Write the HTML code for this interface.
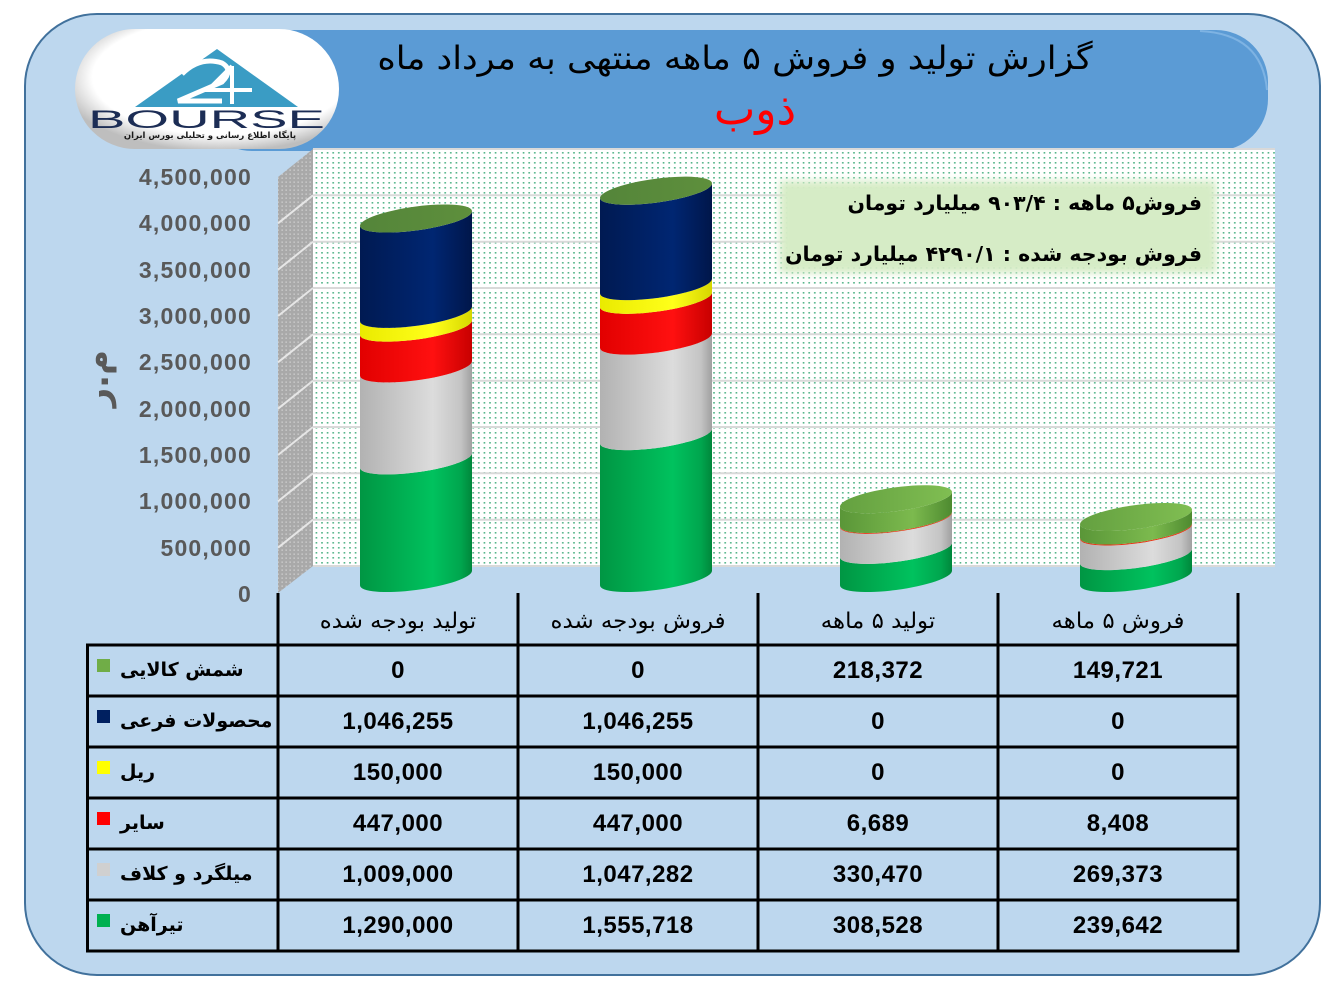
<!DOCTYPE html>
<html><head><meta charset="utf-8">
<style>
html,body{margin:0;padding:0;background:#fff;}
#w{position:relative;width:1342px;height:992px;overflow:hidden;background:#fff;}
svg{position:absolute;left:0;top:0;}
.t{position:absolute;white-space:nowrap;}
.fa{font-family:"DejaVu Sans",sans-serif;direction:rtl;}
.num{font-family:"Liberation Sans",sans-serif;font-weight:bold;font-size:24px;line-height:24px;color:#000;text-align:center;width:240px;letter-spacing:0.5px;}
.yl{font-family:"Liberation Sans",sans-serif;font-weight:bold;font-size:23px;line-height:24px;color:#595959;text-align:right;width:200px;letter-spacing:1.2px;}
.hd{font-family:"DejaVu Sans",sans-serif;direction:rtl;font-size:22px;line-height:30px;text-align:center;width:240px;color:#000;transform:scaleX(1.04);}
.lb{font-family:"DejaVu Sans",sans-serif;direction:rtl;font-size:19px;font-weight:bold;line-height:30px;color:#000;}
</style></head>
<body><div id="w">
<svg width="1342" height="992" viewBox="0 0 1342 992">
<defs>
 <pattern id="dots" width="5.6" height="5" patternUnits="userSpaceOnUse">
  <rect width="5.6" height="5" fill="#fff"/>
  <rect x="2" y="2" width="1.6" height="1.6" fill="#4FB386"/>
 </pattern>
 <pattern id="sdots" width="4" height="4" patternUnits="userSpaceOnUse">
  <rect width="4" height="4" fill="#A9A9A9"/>
  <rect x="1.5" y="1.5" width="1.3" height="1.3" fill="#D4D4D4"/>
 </pattern>
 <linearGradient id="gGreen" x1="0" x2="1" y1="0" y2="0">
  <stop offset="0" stop-color="#009643"/><stop offset="0.65" stop-color="#00C25E"/><stop offset="0.9" stop-color="#00A64E"/><stop offset="1" stop-color="#00873B"/>
 </linearGradient>
 <linearGradient id="gGray" x1="0" x2="1" y1="0" y2="0">
  <stop offset="0" stop-color="#B2B2B2"/><stop offset="0.65" stop-color="#DCDCDC"/><stop offset="0.9" stop-color="#C4C4C4"/><stop offset="1" stop-color="#A0A0A0"/>
 </linearGradient>
 <linearGradient id="gRed" x1="0" x2="1" y1="0" y2="0">
  <stop offset="0" stop-color="#E20000"/><stop offset="0.65" stop-color="#FF1010"/><stop offset="1" stop-color="#C80000"/>
 </linearGradient>
 <linearGradient id="gYel" x1="0" x2="1" y1="0" y2="0">
  <stop offset="0" stop-color="#EAEA00"/><stop offset="0.65" stop-color="#FFFF1A"/><stop offset="1" stop-color="#D6D600"/>
 </linearGradient>
 <linearGradient id="gNavy" x1="0" x2="1" y1="0" y2="0">
  <stop offset="0" stop-color="#001A52"/><stop offset="0.65" stop-color="#002672"/><stop offset="1" stop-color="#00164A"/>
 </linearGradient>
 <linearGradient id="gSh" x1="0" x2="1" y1="0" y2="0">
  <stop offset="0" stop-color="#5A9638"/><stop offset="0.65" stop-color="#7CBA4E"/><stop offset="1" stop-color="#4E8A30"/>
 </linearGradient>
 <linearGradient id="gFace1" x1="0" x2="1" y1="0" y2="0">
  <stop offset="0" stop-color="#54853A"/><stop offset="1" stop-color="#5E8F3C"/>
 </linearGradient>
 <linearGradient id="gFace2" x1="0" x2="1" y1="0" y2="0">
  <stop offset="0" stop-color="#64A040"/><stop offset="1" stop-color="#80BE52"/>
 </linearGradient>
 <radialGradient id="pill" cx="0.55" cy="0.4" r="0.62">
  <stop offset="0.78" stop-color="#ffffff"/><stop offset="1" stop-color="#BEBEBE"/>
 </radialGradient>
 <filter id="blur" x="-10%" y="-20%" width="120%" height="140%"><feGaussianBlur stdDeviation="4"/></filter>
</defs>

<!-- outer frame -->
<rect x="25" y="14" width="1295" height="961" rx="72" fill="#BDD7EE" stroke="#41719C" stroke-width="2"/>

<!-- banner -->
<rect x="200" y="30" width="1068" height="121" rx="52" fill="#5B9BD5"/>
<path d="M1200 31 Q1262 34 1267 90" fill="none" stroke="#8DBDE8" stroke-width="2" opacity="0.7"/>

<!-- logo -->
<rect x="75" y="29" width="264" height="120" rx="60" fill="url(#pill)"/>
<polygon points="135,107 217,49 298,107" fill="#3A9CC4"/>
<path d="M182 74 Q200 56 222 63 Q234 70 222 82 L178 101 L222 101" fill="none" stroke="#fff" stroke-width="5" stroke-linejoin="miter"/>
<path d="M232 66 L232 104 M232 66 L208 90 L252 90" fill="none" stroke="#fff" stroke-width="4"/>
<text x="88" y="128" textLength="237" lengthAdjust="spacingAndGlyphs" font-family="Liberation Sans, sans-serif" font-size="25" fill="#1C2D55">BOURSE</text>

<!-- back wall -->
<rect x="313" y="149" width="962" height="417" fill="url(#dots)"/>
<g stroke="#D9D9D9" stroke-width="2">
 <line x1="313" y1="566" x2="1275" y2="566"/>
 <line x1="313" y1="519.7" x2="1275" y2="519.7"/>
 <line x1="313" y1="473.3" x2="1275" y2="473.3"/>
 <line x1="313" y1="427" x2="1275" y2="427"/>
 <line x1="313" y1="380.7" x2="1275" y2="380.7"/>
 <line x1="313" y1="334.3" x2="1275" y2="334.3"/>
 <line x1="313" y1="288" x2="1275" y2="288"/>
 <line x1="313" y1="241.7" x2="1275" y2="241.7"/>
 <line x1="313" y1="195.3" x2="1275" y2="195.3"/>
 <line x1="313" y1="149" x2="1275" y2="149"/>
</g>
<!-- side wall -->
<polygon points="278,177 313,149 313,566 278,593" fill="url(#sdots)"/>
<g stroke="#E6E6E6" stroke-width="2">
 <line x1="278" y1="547.7" x2="313" y2="519.7"/>
 <line x1="278" y1="501.3" x2="313" y2="473.3"/>
 <line x1="278" y1="455" x2="313" y2="427"/>
 <line x1="278" y1="408.7" x2="313" y2="380.7"/>
 <line x1="278" y1="362.3" x2="313" y2="334.3"/>
 <line x1="278" y1="316" x2="313" y2="288"/>
 <line x1="278" y1="269.7" x2="313" y2="241.7"/>
 <line x1="278" y1="223.3" x2="313" y2="195.3"/>
</g>

<!-- annotation box -->
<rect x="780" y="181" width="436" height="92" fill="#D6ECC6" filter="url(#blur)"/>

<!-- cylinder 1 -->
<g transform="translate(416 0) matrix(1 -0.13 0 1 0 0)">
 <path d="M-56 460.4 A56 12 0 0 0 56 460.4 L56 578 A56 12 0 0 1 -56 578 Z" fill="url(#gGreen)"/>
 <path d="M-56 368.4 A56 12 0 0 0 56 368.4 L56 460.4 A56 12 0 0 1 -56 460.4 Z" fill="url(#gGray)"/>
 <path d="M-56 327.6 A56 12 0 0 0 56 327.6 L56 368.4 A56 12 0 0 1 -56 368.4 Z" fill="url(#gRed)"/>
 <path d="M-56 313.9 A56 12 0 0 0 56 313.9 L56 327.6 A56 12 0 0 1 -56 327.6 Z" fill="url(#gYel)"/>
 <path d="M-56 218.5 A56 12 0 0 0 56 218.5 L56 313.9 A56 12 0 0 1 -56 313.9 Z" fill="url(#gNavy)"/>
 <ellipse cx="0" cy="218.5" rx="56" ry="12" fill="url(#gFace1)"/>
</g>
<!-- cylinder 2 -->
<g transform="translate(656 0) matrix(1 -0.13 0 1 0 0)">
 <path d="M-56 436.1 A56 12 0 0 0 56 436.1 L56 578 A56 12 0 0 1 -56 578 Z" fill="url(#gGreen)"/>
 <path d="M-56 340.6 A56 12 0 0 0 56 340.6 L56 436.1 A56 12 0 0 1 -56 436.1 Z" fill="url(#gGray)"/>
 <path d="M-56 299.8 A56 12 0 0 0 56 299.8 L56 340.6 A56 12 0 0 1 -56 340.6 Z" fill="url(#gRed)"/>
 <path d="M-56 286.1 A56 12 0 0 0 56 286.1 L56 299.8 A56 12 0 0 1 -56 299.8 Z" fill="url(#gYel)"/>
 <path d="M-56 190.7 A56 12 0 0 0 56 190.7 L56 286.1 A56 12 0 0 1 -56 286.1 Z" fill="url(#gNavy)"/>
 <ellipse cx="0" cy="190.7" rx="56" ry="12" fill="url(#gFace1)"/>
</g>
<!-- cylinder 3 -->
<g transform="translate(896 0) matrix(1 -0.13 0 1 0 0)">
 <path d="M-56 549.9 A56 12 0 0 0 56 549.9 L56 578 A56 12 0 0 1 -56 578 Z" fill="url(#gGreen)"/>
 <path d="M-56 519.8 A56 12 0 0 0 56 519.8 L56 549.9 A56 12 0 0 1 -56 549.9 Z" fill="url(#gGray)"/>
 <path d="M-56 519.0 A56 12 0 0 0 56 519.0 L56 519.8 A56 12 0 0 1 -56 519.8 Z" fill="#E83010"/>
 <path d="M-56 499.3 A56 12 0 0 0 56 499.3 L56 519.0 A56 12 0 0 1 -56 519.0 Z" fill="url(#gSh)"/>
 <ellipse cx="0" cy="499.3" rx="56" ry="12" fill="url(#gFace2)"/>
</g>
<!-- cylinder 4 -->
<g transform="translate(1136 0) matrix(1 -0.13 0 1 0 0)">
 <path d="M-56 556.1 A56 12 0 0 0 56 556.1 L56 578 A56 12 0 0 1 -56 578 Z" fill="url(#gGreen)"/>
 <path d="M-56 531.5 A56 12 0 0 0 56 531.5 L56 556.1 A56 12 0 0 1 -56 556.1 Z" fill="url(#gGray)"/>
 <path d="M-56 530.5 A56 12 0 0 0 56 530.5 L56 531.5 A56 12 0 0 1 -56 531.5 Z" fill="#E83010"/>
 <path d="M-56 517.0 A56 12 0 0 0 56 517.0 L56 530.5 A56 12 0 0 1 -56 530.5 Z" fill="url(#gSh)"/>
 <ellipse cx="0" cy="517.0" rx="56" ry="12" fill="url(#gFace2)"/>
</g>

<!-- table lines -->
<g stroke="#000" stroke-width="3">
 <line x1="278" y1="593" x2="278" y2="952.5"/>
 <line x1="518" y1="593" x2="518" y2="952.5"/>
 <line x1="758" y1="593" x2="758" y2="952.5"/>
 <line x1="998" y1="593" x2="998" y2="952.5"/>
 <line x1="1238" y1="593" x2="1238" y2="952.5"/>
 <line x1="87.5" y1="644" x2="87.5" y2="952.5"/>
 <line x1="86" y1="645" x2="1239.5" y2="645"/>
 <line x1="86" y1="696" x2="1239.5" y2="696"/>
 <line x1="86" y1="747" x2="1239.5" y2="747"/>
 <line x1="86" y1="798" x2="1239.5" y2="798"/>
 <line x1="86" y1="849" x2="1239.5" y2="849"/>
 <line x1="86" y1="900" x2="1239.5" y2="900"/>
 <line x1="86" y1="951" x2="1239.5" y2="951"/>
</g>
<rect x="97" y="659" width="13" height="13" fill="#70AD47"/>
<rect x="97" y="710" width="13" height="13" fill="#002060"/>
<rect x="97" y="761" width="13" height="13" fill="#FFFF00"/>
<rect x="97" y="812" width="13" height="13" fill="#FF0000"/>
<rect x="97" y="863" width="13" height="13" fill="#D0D0D0"/>
<rect x="97" y="914" width="13" height="13" fill="#00B050"/>
</svg>

<!-- logo subtitle -->
<div class="t fa" style="left:90px;top:130px;width:240px;text-align:center;font-size:8.5px;font-weight:bold;line-height:12px;color:#1a1a1a;">پایگاه اطلاع رسانی و تحلیلی بورس ایران</div>

<!-- title -->
<div class="t fa" style="left:285px;top:36px;width:900px;text-align:center;font-size:32px;line-height:44px;color:#000;transform:scaleX(1.1);">گزارش تولید و فروش ۵ ماهه منتهی به مرداد ماه</div>
<div class="t fa" style="left:655px;top:84px;width:200px;text-align:center;font-size:44px;line-height:52px;color:#FF0000;">ذوب</div>

<!-- annotation -->
<div class="t fa" style="right:140px;top:188px;text-align:right;font-size:20.5px;font-weight:bold;line-height:30px;color:#000;">فروش۵ ماهه : ۹۰۳/۴ میلیارد تومان</div>
<div class="t fa" style="right:140px;top:239px;text-align:right;font-size:20.5px;font-weight:bold;line-height:30px;color:#000;">فروش بودجه شده : ۴۲۹۰/۱ میلیارد تومان</div>

<!-- y axis title -->
<div class="t fa" style="left:72px;top:355px;width:50px;text-align:center;font-size:34px;font-weight:bold;line-height:40px;color:#595959;transform:rotate(-90deg);">م.ر</div>

<!-- y labels -->
<div class="t yl" style="left:52px;top:165px;">4,500,000</div>
<div class="t yl" style="left:52px;top:211.3px;">4,000,000</div>
<div class="t yl" style="left:52px;top:257.7px;">3,500,000</div>
<div class="t yl" style="left:52px;top:304px;">3,000,000</div>
<div class="t yl" style="left:52px;top:350.3px;">2,500,000</div>
<div class="t yl" style="left:52px;top:396.7px;">2,000,000</div>
<div class="t yl" style="left:52px;top:443px;">1,500,000</div>
<div class="t yl" style="left:52px;top:489.3px;">1,000,000</div>
<div class="t yl" style="left:52px;top:535.7px;">500,000</div>
<div class="t yl" style="left:52px;top:582px;">0</div>

<!-- header -->
<div class="t hd" style="left:278px;top:607px;">تولید بودجه شده</div>
<div class="t hd" style="left:518px;top:607px;">فروش بودجه شده</div>
<div class="t hd" style="left:758px;top:607px;">تولید ۵ ماهه</div>
<div class="t hd" style="left:998px;top:607px;">فروش ۵ ماهه</div>

<!-- row labels -->
<div class="t lb" style="left:120px;top:655px;">شمش کالایی</div>
<div class="t lb" style="left:120px;top:706px;">محصولات فرعی</div>
<div class="t lb" style="left:120px;top:757px;">ریل</div>
<div class="t lb" style="left:120px;top:808px;">سایر</div>
<div class="t lb" style="left:120px;top:859px;">میلگرد و کلاف</div>
<div class="t lb" style="left:120px;top:910px;">تیرآهن</div>

<!-- numbers -->
<div class="t num" style="left:278px;top:659px;">0</div>
<div class="t num" style="left:518px;top:659px;">0</div>
<div class="t num" style="left:758px;top:659px;">218,372</div>
<div class="t num" style="left:998px;top:659px;">149,721</div>

<div class="t num" style="left:278px;top:710px;">1,046,255</div>
<div class="t num" style="left:518px;top:710px;">1,046,255</div>
<div class="t num" style="left:758px;top:710px;">0</div>
<div class="t num" style="left:998px;top:710px;">0</div>

<div class="t num" style="left:278px;top:761px;">150,000</div>
<div class="t num" style="left:518px;top:761px;">150,000</div>
<div class="t num" style="left:758px;top:761px;">0</div>
<div class="t num" style="left:998px;top:761px;">0</div>

<div class="t num" style="left:278px;top:812px;">447,000</div>
<div class="t num" style="left:518px;top:812px;">447,000</div>
<div class="t num" style="left:758px;top:812px;">6,689</div>
<div class="t num" style="left:998px;top:812px;">8,408</div>

<div class="t num" style="left:278px;top:863px;">1,009,000</div>
<div class="t num" style="left:518px;top:863px;">1,047,282</div>
<div class="t num" style="left:758px;top:863px;">330,470</div>
<div class="t num" style="left:998px;top:863px;">269,373</div>

<div class="t num" style="left:278px;top:914px;">1,290,000</div>
<div class="t num" style="left:518px;top:914px;">1,555,718</div>
<div class="t num" style="left:758px;top:914px;">308,528</div>
<div class="t num" style="left:998px;top:914px;">239,642</div>
</div></body></html>
